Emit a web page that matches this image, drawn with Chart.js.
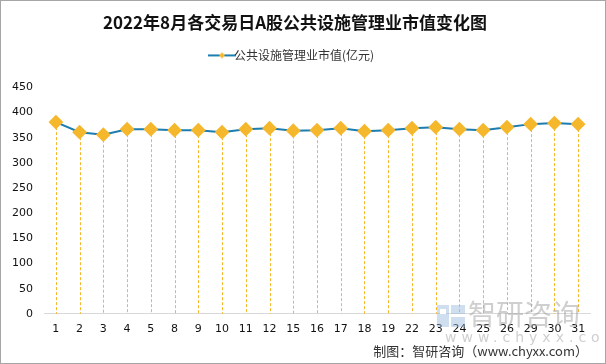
<!DOCTYPE html>
<html>
<head>
<meta charset="utf-8">
<script src="https://cdn.jsdelivr.net/npm/chart.js@4"></script>
<style>
    html, body { margin: 0; padding: 0; background: #fff; }
    #wrap { width: 606px; height: 364px; position: relative; }
</style>
</head>
<body>
<div id="wrap"><canvas id="chart" width="606" height="364"></canvas></div>
<script>
const LINE_COLOR = '#1b7db1';
const DOT_COLOR = '#f5b72c';

const days = ['1', '2', '3', '4', '5', '8', '9', '10', '11', '12', '15', '16', '17', '18', '19', '22', '23', '24', '25', '26', '29', '30', '31'];
const marketValue = [381, 361, 356, 367, 367, 365, 365, 361, 367, 369, 364, 365, 369, 363, 365, 369, 371, 367, 365, 371, 377, 379, 377];
const yTicks = [0, 50, 100, 150, 200, 250, 300, 350, 400, 450];
const seriesName = '公共设施管理业市值(亿元)';
const chartTitle = '2022年8月各交易日A股公共设施管理业市值变化图';

// legend icon: line with a small diamond in the middle
function legendIcon() {
    const c = document.createElement('canvas');
    c.width = 28; c.height = 10;
    const g = c.getContext('2d');
    g.strokeStyle = LINE_COLOR;
    g.lineWidth = 2;
    g.beginPath(); g.moveTo(0, 5); g.lineTo(28, 5); g.stroke();
    g.fillStyle = DOT_COLOR;
    g.beginPath(); g.moveTo(14, 2); g.lineTo(17, 5); g.lineTo(14, 8); g.lineTo(11, 5); g.closePath(); g.fill();
    return c;
}

// extra room under the legend
const legendGap = {
    id: 'legendGap',
    beforeInit(chart) {
        const fit = chart.legend.fit;
        chart.legend.fit = function () {
            fit.bind(chart.legend)();
            this.height += 16;
        };
    }
};

// dashed drop lines from each point down to the x axis
const dropLines = {
    id: 'dropLines',
    beforeDatasetsDraw(chart) {
        const ctx = chart.ctx;
        const y0 = chart.scales.y.getPixelForValue(0);
        const pts = chart.getDatasetMeta(0).data;
        ctx.save();
        ctx.strokeStyle = DOT_COLOR;
        ctx.lineWidth = 1;
        ctx.setLineDash([3, 2]);
        pts.forEach(p => {
            const x = Math.round(p.x) + 0.5;
            ctx.beginPath();
            ctx.moveTo(x, p.y);
            ctx.lineTo(x, y0);
            ctx.stroke();
        });
        ctx.restore();
    }
};

// frame, watermark and source note
const decorations = {
    id: 'decorations',
    afterDraw(chart) {
        const ctx = chart.ctx;
        ctx.save();
        ctx.strokeStyle = '#a6a6a6';
        ctx.lineWidth = 1;
        ctx.strokeRect(0.5, 0.5, chart.width - 1, chart.height - 1);

        // watermark logo
        ctx.fillStyle = 'rgba(150,185,220,0.45)';
        ctx.fillRect(437, 305, 12, 22);
        ctx.fillRect(451, 305, 14, 9);
        ctx.fillRect(451, 317, 14, 10);
        ctx.fillStyle = '#fff';
        ctx.fillRect(440, 309, 6, 5);

        ctx.fillStyle = 'rgba(160,160,160,0.5)';
        ctx.font = '28px "Noto Sans CJK SC"';
        ctx.textBaseline = 'middle';
        ctx.textAlign = 'left';
        ctx.fillText('智研咨询', 468, 314);
        ctx.font = '14px "DejaVu Sans"';
        ctx.letterSpacing = '5px';
        ctx.fillText('www.chyxx.com', 445, 338);
        ctx.letterSpacing = '0px';

        ctx.fillStyle = '#333';
        ctx.font = '13px "Noto Sans CJK SC"';
        ctx.textAlign = 'right';
        ctx.fillText('制图：智研咨询（www.chyxx.com）', 588, 351);
        ctx.restore();
    }
};

new Chart(document.getElementById('chart'), {
    type: 'line',
    data: {
        labels: days,
        datasets: [{
            label: seriesName,
            data: marketValue,
            borderColor: LINE_COLOR,
            borderWidth: 2,
            pointStyle: 'rectRot',
            pointRadius: 6,
            pointBackgroundColor: DOT_COLOR,
            pointBorderColor: DOT_COLOR,
            tension: 0
        }]
    },
    options: {
        responsive: false,
        animation: false,
        layout: { padding: { left: 0, right: 16, top: 6, bottom: 19 } },
        plugins: {
            title: {
                display: true,
                text: chartTitle,
                color: '#111',
                font: { family: '"Noto Sans CJK SC"', size: 17, weight: 'bold' },
                padding: { top: 6, bottom: 7 }
            },
            legend: {
                labels: {
                    color: '#333',
                    font: { family: '"Noto Sans CJK SC"', size: 12 },
                    usePointStyle: true,
                    generateLabels: () => [{
                        text: seriesName,
                        pointStyle: legendIcon(),
                        fontColor: '#333',
                        datasetIndex: 0
                    }]
                }
            },
            tooltip: { enabled: false }
        },
        scales: {
            x: {
                offset: true,
                grid: { display: false, drawTicks: false },
                border: { color: '#d9d9d9', width: 1 },
                ticks: {
                    color: '#111',
                    padding: 9,
                    font: { family: '"DejaVu Sans"', size: 11 },
                    maxRotation: 0,
                    autoSkip: false
                }
            },
            y: {
                min: yTicks[0],
                max: yTicks[yTicks.length - 1],
                afterFit: scale => { scale.width = 44; },
                afterBuildTicks: scale => { scale.ticks = yTicks.map(v => ({ value: v })); },
                grid: { display: false, drawTicks: false },
                border: { display: false },
                ticks: {
                    color: '#111',
                    padding: 11,
                    font: { family: '"DejaVu Sans"', size: 11 }
                }
            }
        }
    },
    plugins: [legendGap, dropLines, decorations]
});
</script>
</body>
</html>
